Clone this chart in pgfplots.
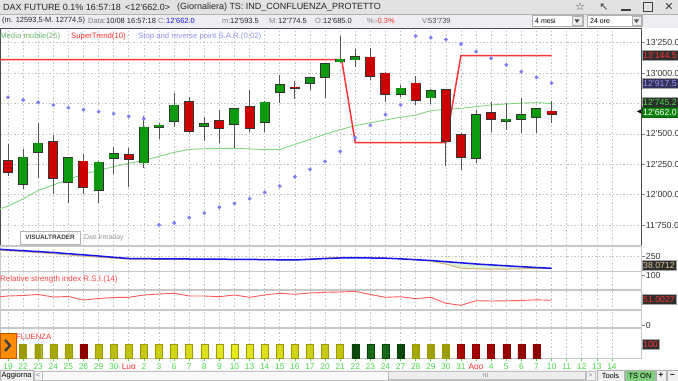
\documentclass[border=0pt]{standalone}
\usepackage{pgfplots}
\pgfplotsset{compat=1.18}
\usepackage{pgfplotstable}
\usepackage{fontspec}
\setmainfont{Liberation Sans}
\newfontfamily\dejavu{DejaVu Sans}
\newcommand{\fs}[1]{\fontsize{#1}{#1}\selectfont}

\definecolor{cgreen}{HTML}{0E9A0E}
\definecolor{cred}{HTML}{CC0000}
\definecolor{cout}{HTML}{333333}
\definecolor{wick}{HTML}{555555}
\definecolor{sar}{HTML}{7C7CF2}
\definecolor{st}{HTML}{FF3333}
\definecolor{ma}{HTML}{7FD87F}
\definecolor{gridc}{HTML}{C4C4C4}
\definecolor{sep}{HTML}{C8C8C8}
\definecolor{boxbg}{HTML}{2E2E2E}
\definecolor{lblgreen}{HTML}{44DD44}
\definecolor{yedge}{HTML}{9A9A00}
\definecolor{ymid}{HTML}{EAEA20}
\definecolor{gedge}{HTML}{0A400A}
\definecolor{gmid}{HTML}{1E7A1E}
\definecolor{redge}{HTML}{8A0000}
\definecolor{rmid}{HTML}{E41010}
\definecolor{blue2}{HTML}{1414F0}
\definecolor{beige}{HTML}{D8B27A}
\definecolor{fillg}{HTML}{DDF2D4}
\definecolor{rsi}{HTML}{FF5A5A}
\definecolor{titlebg}{HTML}{E2E2E2}
\definecolor{infobg}{HTML}{EEEEF2}
\definecolor{lblred}{HTML}{FF3030}

\pgfplotstableread{
x o h l c
1 12088 12373 12049 12307
2 12351 12587 12134 12422
4 12104 12313 11929 12304
6 12036 12280 11934 12266
7 12299 12395 12170 12335
9 12263 12647 12217 12554
10 12554 12592 12458 12570
11 12603 12833 12554 12735
13 12562 12642 12442 12581
15 12579 12708 12381 12705
17 12598 12773 12513 12760
18 12842 12987 12751 12902
20 12918 12971 12858 12962
21 12965 13086 12793 13075
22 13094 13305 13081 13113
23 13110 13198 13053 13135
26 12828 12902 12801 12875
28 12798 12866 12746 12855
31 12299 12696 12263 12655
33 12603 12751 12532 12620
34 12622 12795 12510 12655
35 12636 12705 12510 12705
}\greenc

\pgfplotstableread{
x o h l c
0 12280 12414 12154 12189
3 12436 12491 12003 12140
5 12274 12335 12006 12060
8 12326 12387 12066 12291
12 12762 12803 12505 12527
14 12609 12694 12428 12548
16 12721 12861 12518 12548
19 12883 12932 12790 12875
24 13130 13210 12940 12980
25 12998 13012 12765 12825
27 12916 12976 12738 12779
29 12861 12866 12236 12444
30 12494 12510 12203 12313
32 12674 12759 12513 12620
36 12685 12774.5 12593.5 12662
}\redc

\pgfplotsset{
 panel/.style={scale only axis, width=641.7bp, xmin=-0.53, xmax=41.97,
  anchor=north west, xtick={0,...,40}, xticklabels={}, xtick style={draw=none},
  xmajorgrids, major grid style={gridc, dash pattern=on 1.5bp off 2bp, line width=0.6bp},
  axis line style={draw=sep, line width=1.4bp},
  ytick pos=right, yticklabel pos=right, ytick style={draw=gray, line width=0.6bp},
  tick align=outside, major tick length=3bp,
  yticklabel style={font=\fs{8.8}, text=black!80, inner sep=1bp},
  /pgf/number format/assume math mode=true, clip=false}
}
\tikzset{vbox/.style={anchor=west, fill=boxbg, draw=gray!70, line width=0.5bp, inner sep=1.2bp,
  minimum height=10bp, font=\fs{8.8}}}

\begin{document}
\begin{tikzpicture}
\path[use as bounding box] (0,0) rectangle (678bp,381bp);
\fill[white] (0,0) rectangle (678bp,381bp);

% ---------------- main price panel
\begin{axis}[panel, at={(0bp,353bp)}, height=218bp, ymin=11578, ymax=13371,
 ytick={11750,12000,12250,12500,12750,13000,13250},
 yticklabels={11'750.0,12'000.0,12'250.0,12'500.0,{},13'000.0,13'250.0},
 ymajorgrids, axis line style={draw=black!70, line width=0.7bp}]
\addplot[ma, line width=0.9bp, mark=none] coordinates {
(-0.53,11885) (0,11905) (1,11965) (2,12035) (3,12080) (4,12125) (5,12170) (6,12200)
(7,12230) (8,12258) (9,12282) (10,12315) (11,12348) (12,12372) (13,12378) (14,12380)
(15,12381) (16,12377) (17,12370) (18,12372) (19,12413) (20,12455) (21,12497) (22,12535)
(23,12568) (24,12592) (25,12614) (26,12636) (27,12655) (28,12691) (29,12702) (30,12710)
(31,12724) (32,12738) (33,12746) (34,12754) (35,12757) (36,12750)};
\addplot[st, line width=1.5bp, mark=none] coordinates {
(-0.53,13110) (22.1,13110) (23,12428) (29,12428) (30,13144.5) (36,13144.5)};
% wicks
\addplot[draw=none, mark=none, forget plot, error bars/.cd, y dir=both, y explicit, error mark=none,
 error bar style={draw=wick, line width=0.9bp}]
 table[x=x, y=c, y error plus expr={\thisrow{h}-\thisrow{c}}, y error minus expr={\thisrow{c}-\thisrow{l}}] {\greenc};
\addplot[draw=none, mark=none, forget plot, error bars/.cd, y dir=both, y explicit, error mark=none,
 error bar style={draw=wick, line width=0.9bp}]
 table[x=x, y=c, y error plus expr={\thisrow{h}-\thisrow{c}}, y error minus expr={\thisrow{c}-\thisrow{l}}] {\redc};
% body outlines
\addplot[draw=none, mark=none, forget plot, error bars/.cd, y dir=both, y explicit, error mark=none,
 error bar style={draw=cout, line width=10bp}]
 table[x=x, y=c, y error plus expr={6}, y error minus expr={\thisrow{c}-\thisrow{o}+6}] {\greenc};
\addplot[draw=none, mark=none, forget plot, error bars/.cd, y dir=both, y explicit, error mark=none,
 error bar style={draw=cout, line width=10bp}]
 table[x=x, y=c, y error plus expr={\thisrow{o}-\thisrow{c}+6}, y error minus expr={6}] {\redc};
% body fills
\addplot[draw=none, mark=none, forget plot, error bars/.cd, y dir=both, y explicit, error mark=none,
 error bar style={draw=cgreen, line width=8.4bp}]
 table[x=x, y=c, y error plus expr={0}, y error minus expr={\thisrow{c}-\thisrow{o}}] {\greenc};
\addplot[draw=none, mark=none, forget plot, error bars/.cd, y dir=both, y explicit, error mark=none,
 error bar style={draw=cred, line width=8.4bp}]
 table[x=x, y=c, y error plus expr={\thisrow{o}-\thisrow{c}}, y error minus expr={0}] {\redc};
% SAR
\addplot[only marks, mark=*, mark size=1.7bp, mark options={draw=sar, fill=sar}] coordinates {
(0,12801) (1,12779) (2,12760) (3,12738) (4,12716) (5,12699) (6,12683) (7,12666) (8,12644)
(9,12625) (10,11751) (11,11767) (12,11811) (13,11849) (14,11896) (15,11929) (16,11967)
(17,12019) (18,12071) (19,12148) (20,12209) (21,12274) (22,12356) (23,12469) (24,12570)
(25,12658) (26,12738) (27,13305) (28,13291) (29,13276) (30,13239) (31,13176) (32,13122)
(33,13067) (34,13012) (35,12965) (36,12917.5)};
\node[vbox, text=lblred] at (axis cs:41.97,13144.5) {13'144.5};
\node[vbox, text=sar!80!white, fill=black!75!blue!60!gray] at (axis cs:41.97,12917.5) {12'917.5};
\node[vbox, text=lblgreen] at (axis cs:41.97,12760) {12'745.2};
\node[vbox, text=white, fill=cgreen!85!black, draw=cgreen!60!black] at (axis cs:41.97,12680) {12'662.0};
\node[anchor=east, inner sep=0, font=\dejavu\fs{6}] at (axis cs:41.97,12680) {◀};
\end{axis}

% ---------------- second panel
\begin{axis}[panel, at={(0bp,135bp)}, height=25.7bp, ymin=-50, ymax=464,
 ytick={250}, yticklabels={250}, ymajorgrids]
\addplot[fill=fillg, draw=none, forget plot] coordinates {
(28,174) (29,150) (30,128) (31,104) (32,86) (33,68) (34,50) (35,34) (36,18)
(35,13) (34,8) (33,3) (32,0) (31,6) (30,20) (29,104) (28,160)} -- cycle;
\addplot[beige, line width=1bp, mark=none] coordinates {
(-0.53,380) (0,370) (1,352) (2,332) (3,310) (4,286) (5,262) (6,240) (7,220) (8,204)
(9,200) (10,198) (11,197) (12,196) (13,194) (14,193) (15,192) (16,190) (17,188) (18,186)
(19,184) (20,204) (21,224) (22,236) (23,238) (24,234) (25,226) (26,210) (27,188) (28,160)
(29,104) (30,20) (31,6) (32,0) (33,3) (34,8) (35,13) (36,18)};
\addplot[blue2, line width=1.5bp, mark=none] coordinates {
(-0.53,398) (0,386) (1,370) (2,352) (3,334) (4,310) (5,287) (6,264) (7,238) (8,214)
(9,210) (10,208) (11,206) (12,204) (13,202) (14,200) (15,198) (16,196) (17,192) (18,188)
(19,184) (20,198) (21,212) (22,224) (23,226) (24,224) (25,220) (26,206) (27,190) (28,174)
(29,150) (30,128) (31,104) (32,86) (33,68) (34,50) (35,34) (36,18)};
\node[vbox, text=beige!80!white] at (axis cs:41.97,84) {38.0712};
\end{axis}

% ---------------- RSI panel
\begin{axis}[panel, at={(0bp,109.3bp)}, height=56.3bp, ymin=-6, ymax=106.6,
 ytick={0,100}, yticklabels={0,100},
 extra y ticks={30,70}, extra y tick labels={},
 extra y tick style={ymajorgrids=true, major grid style={sep, line width=1.3bp, solid}, major tick length=0pt}]
\addplot[rsi, line width=0.9bp, mark=none] coordinates {
(-0.53,56.6) (0,58) (1,59) (2,61) (3,56) (4,57) (5,50) (6,53) (7,55) (8,55.4) (9,60) (10,62)
(11,63.4) (12,58) (13,58) (14,56.6) (15,60) (16,55.4) (17,60) (18,63.4) (19,61.4) (20,64)
(21,65.4) (22,66) (23,67.4) (24,61) (25,55.4) (26,56.6) (27,52.6) (28,55.4) (29,43.4)
(30,39.4) (31,48.6) (32,48) (33,48.4) (34,49) (35,50.4) (36,49.4)};
\node[vbox, text=lblred] at (axis cs:41.97,51.0027) {51.0027};
\end{axis}

% ---------------- confluenza panel
\begin{axis}[panel, at={(0bp,53bp)}, height=30.3bp, ymin=0, ymax=216, ytick=\empty,
 xtick pos=bottom, xtick style={draw=lblgreen, line width=0.7bp},
 xticklabel style={text=lblgreen, font=\fs{8.4}, inner sep=1bp, yshift=-1bp},
 xticklabels={19,22,23,24,25,26,29,30,\textcolor{lblred}{Lug},2,3,6,7,8,9,10,13,14,15,16,17,20,21,22,23,24,27,28,29,30,31,\textcolor{lblred}{Ago},4,5,6,7,10,11,12,13,14},
 extra x ticks={8,31}, extra x tick labels={},
 extra x tick style={tick style={draw=lblred, line width=0.7bp}}]
\addplot[ybar, bar width=7bp, bar shift=0pt, draw=yedge, left color=yedge, right color=yedge, middle color=ymid] coordinates {
(1,100) (2,100) (3,100) (4,100) (6,100) (7,100) (8,100) (9,100) (10,100) (11,100) (12,100)
(13,100) (14,100) (15,100) (16,100) (17,100) (18,100) (19,100) (20,100) (21,100) (22,100)
(27,100) (28,100) (29,100)};
\addplot[ybar, bar width=7bp, bar shift=0pt, draw=gedge, left color=gedge, right color=gedge, middle color=gmid] coordinates {
(23,100) (24,100) (25,100) (26,100)};
\addplot[ybar, bar width=7bp, bar shift=0pt, draw=redge, left color=redge, right color=redge, middle color=rmid] coordinates {
(5,100) (30,100) (31,100) (32,100) (33,100) (34,100) (35,100)};
\node[vbox, text=lblred, minimum width=17bp] at (axis cs:41.97,100) {100};
\end{axis}

% ---------------- window chrome
\begin{scope}[x=1bp, y=-1bp, yshift=381bp]
\fill[titlebg] (0,0) rectangle (678,14);
\fill[infobg] (0,14) rectangle (678,28);
\draw[gray!60, line width=0.5bp] (0,14) -- (678,14);
\node[anchor=west, inner sep=0, font=\fs{9}, text=black!85] at (3,7.5) {DAX FUTURE 0.1\% 16:57:18};
\node[anchor=west, inner sep=0, font=\fs{9}, text=black!85] at (125,7.5) {<12'662.0>};
\node[anchor=west, inner sep=0, font=\fs{9}, text=black!85] at (177,7.5) {(Giornaliera) TS: IND\_CONFLUENZA\_PROTETTO};
\node[inner sep=0, font=\dejavu\fs{11}, text=black!75] at (580,7) {☆};
\node[inner sep=0, font=\dejavu\fs{11}, text=black!75] at (604,7) {↖};
\draw[black!75, line width=1.4bp] (621,10) -- (631,10);
\draw[black!75, line width=0.9bp] (643.5,2.5) rectangle (652.5,11);
\node[inner sep=0, font=\dejavu\fs{11}, text=black!75] at (669,7) {✕};
% info bar
\begin{scope}[every node/.style={anchor=west, inner sep=0, font=\fs{7.5}}]
\node[text=black!85] at (2,21) {(m. 12593,5-M. 12774,5)};
\node[text=gray] at (88,21) {Data:};
\node[text=black!85] at (106,21) {10/08 16:57:18};
\node[text=gray] at (158,21) {C:};
\node[text=blue2] at (166,21) {12'662.0};
\node[text=gray] at (222,21) {m:};
\node[text=black!85] at (230,21) {12'593.5};
\node[text=gray] at (269,21) {M:};
\node[text=black!85] at (278,21) {12'774.5};
\node[text=gray] at (315,21) {O:};
\node[text=black!85] at (323,21) {12'685.0};
\node[text=gray] at (367,21) {\%:};
\node[text=lblred] at (375,21) {-0.3\%};
\node[text=gray] at (422,21) {V:};
\node[text=black!70] at (428,21) {53'739};
\end{scope}
\draw[gray!60, fill=white, line width=0.5bp] (532,15.5) rectangle (583,26.5);
\node[anchor=west, inner sep=0, font=\fs{7}] at (535,21) {4 mesi};
\draw[gray!60, fill=gray!15, line width=0.4bp] (572,16.5) rectangle (582,25.5);
\fill[black!70] (574.5,19.5) -- (579.5,19.5) -- (577,23) -- cycle;
\draw[gray!60, fill=white, line width=0.5bp] (587,15.5) rectangle (642,26.5);
\node[anchor=west, inner sep=0, font=\fs{7}] at (590,21) {24 ore};
\draw[gray!60, fill=gray!15, line width=0.4bp] (632,16.5) rectangle (641,25.5);
\fill[black!70] (634,19.5) -- (639,19.5) -- (636.5,23) -- cycle;
% indicator labels
\node[anchor=west, inner sep=0, font=\fs{7.8}, text=ma!85!black] at (0,36.5) {Media mobile(25)};
\node[anchor=west, inner sep=0, font=\fs{7.8}, text=lblred] at (71,36.5) {SuperTrend(10)};
\node[anchor=west, inner sep=0, font=\fs{7.8}, text=sar!85!white] at (138,36.5) {Stop and reverse point S.A.R.(0.02)};
% logo
\draw[gray!60, fill=white, line width=0.5bp] (20,231) rectangle (80,244);
\node[inner sep=0, font=\bfseries\fs{6.4}, text=black!75] at (50,237.5) {VISUALTRADER};
\node[anchor=west, inner sep=0, font=\fs{7}, text=gray!80] at (84,238) {Dati Intraday};
% RSI label
\node[anchor=west, inner sep=0, font=\fs{8}, text=lblred!90] at (0,279) {Relative strength index R.S.I.(14)};
% confluenza
\draw[fill=orange!90!yellow, draw=orange!70!black, line width=0.5bp] (0,333) rectangle (16,358);
\draw[black!75, line width=2.4bp] (5,340) -- (10,345.5) -- (5,351);
\node[anchor=west, inner sep=0, font=\fs{7.7}, text=lblred] at (16,337) {FLUENZA};
% status bar
\fill[gray!8] (0,369) rectangle (678,381);
\draw[gray!60, fill=gray!12, line width=0.5bp] (0.3,370) rectangle (33,381);
\node[inner sep=0, font=\fs{7.5}] at (16.7,376) {Aggiorna};
\draw[gray!50, fill=gray!5, line width=0.4bp] (34,371) rectangle (595,380);
\draw[gray!50, fill=gray!10, line width=0.4bp] (34,371) rectangle (42,380);
\node[inner sep=0, font=\fs{7}, text=gray] at (38,375.5) {<};
\draw[gray!50, fill=gray!14, line width=0.4bp] (388,371.5) rectangle (585,379.5);
\draw[gray!60, line width=0.4bp] (483,373.5) -- (483,377.5) (485,373.5) -- (485,377.5) (487,373.5) -- (487,377.5);
\draw[gray!50, fill=gray!10, line width=0.4bp] (586,371) rectangle (595,380);
\node[inner sep=0, font=\fs{7}, text=gray] at (590.5,375.5) {>};
\draw[gray!60, fill=gray!12, line width=0.5bp] (597,370) rectangle (624,381);
\node[inner sep=0, font=\fs{7.5}] at (610.5,376) {Tools};
\draw[gray!60, fill=green!45!gray!70, line width=0.5bp] (625,370) rectangle (655,381);
\node[inner sep=0, font=\fs{7.5}] at (640,376) {TS ON};
\draw[gray!60, fill=gray!12, line width=0.5bp] (656,370) rectangle (666,381);
\node[inner sep=0, font=\bfseries\fs{8}] at (661,375.5) {+};
\draw[gray!60, fill=gray!12, line width=0.5bp] (667,370) rectangle (678,381);
\node[inner sep=0, font=\bfseries\fs{8}] at (672.5,375.5) {−};
\end{scope}
\end{tikzpicture}
\end{document}
